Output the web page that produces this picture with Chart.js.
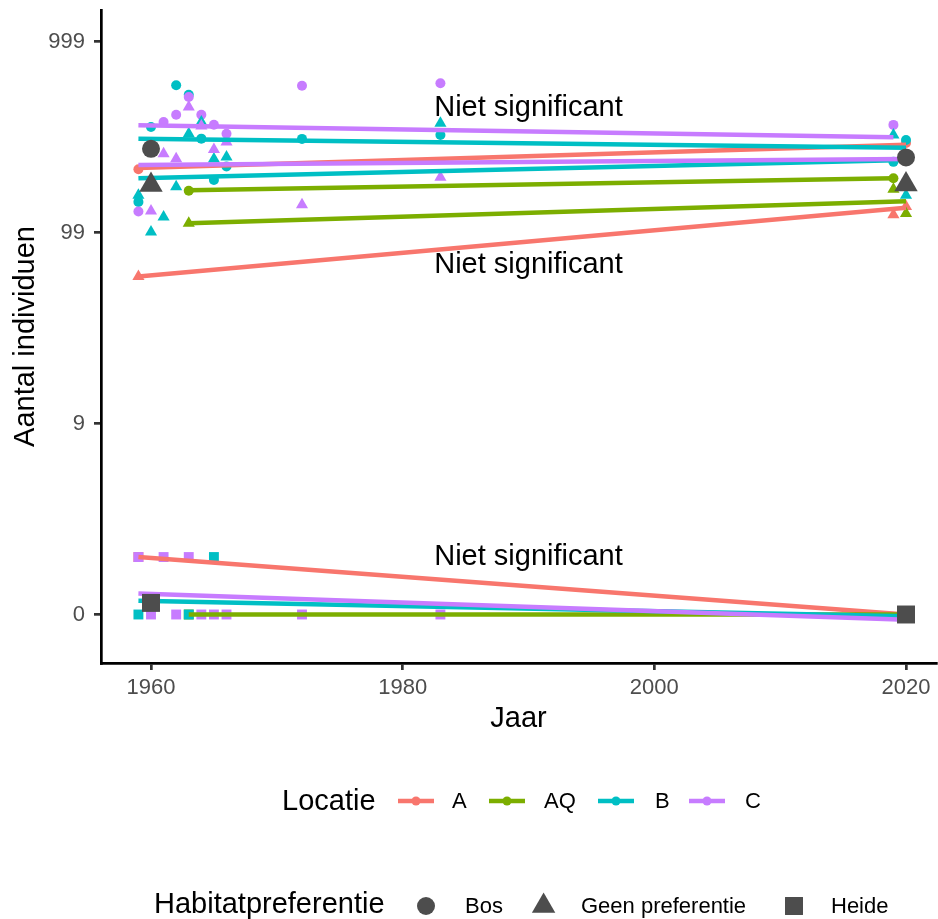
<!DOCTYPE html>
<html>
<head>
<meta charset="utf-8">
<script src="https://cdn.jsdelivr.net/npm/chart.js@4.4.0/dist/chart.umd.min.js"></script>
<style>
  html, body { margin: 0; padding: 0; background: #fff; }
  canvas { display: block; }
</style>
</head>
<body>
<canvas id="chart" width="938" height="919"></canvas>
<script>
const fam = "'Liberation Sans', Arial, sans-serif";
Chart.defaults.font.family = fam;

const locaties = ['A', 'AQ', 'B', 'C'];
const habitats = ['Bos', 'Geen preferentie', 'Heide'];

// tick labels
const jaarTicks = [1960, 1980, 2000, 2020];
const aantalTicks = [0, 9, 99, 999];

// Bos (counts)
const bosA_jaar = [1959, 2020];
const bosA_aantal = [214, 294];
const bosAQ_jaar = [1963, 2019];
const bosAQ_aantal = [165, 192];
const bosB_jaar = [1959, 1960, 1962, 1963, 1964, 1965, 1966, 1972, 1983, 2019, 2020];
const bosB_aantal = [144, 357, 591, 527, 310, 188, 221, 309, 324, 234, 305];
const bosC_jaar = [1959, 1961, 1962, 1963, 1964, 1965, 1966, 1972, 1983, 2019];
const bosC_aantal = [128, 379, 414, 513, 414, 367, 329, 588, 606, 366];

// Geen preferentie
const geenA_jaar = [1959, 2019, 2020];
const geenA_aantal = [58, 123, 136];
const geenAQ_jaar = [1963, 2019, 2020];
const geenAQ_aantal = [111, 168, 125];
const geenB_jaar = [1959, 1960, 1961, 1962, 1963, 1964, 1965, 1966, 1983, 2019, 2020];
const geenB_aantal = [156, 100, 120, 173, 329, 379, 242, 248, 373, 324, 156];
const geenC_jaar = [1960, 1961, 1962, 1963, 1964, 1965, 1966, 1972, 1983];
const geenC_aantal = [129, 258, 243, 454, 361, 272, 298, 139, 194];

// Heide
const heideA_jaar = [1959, 2020];
const heideA_aantal = [1, 0];
const heideAQ_jaar = [1963, 2020];
const heideAQ_aantal = [0, 0];
const heideB_jaar = [1959, 1963, 1965, 2020];
const heideB_aantal = [0, 0, 1, 0];
const heideC_jaar = [1959, 1960, 1961, 1962, 1963, 1964, 1965, 1966, 1972, 1983, 2020];
const heideC_aantal = [1, 0, 1, 0, 1, 0, 0, 0, 0, 0, 0];

// trend lines, start/end per locatie (A, AQ, B, C)
const bosTrend_jaar = [[1959, 2020], [1963, 2019], [1959, 2020], [1959, 2019]];
const bosTrend_aantal = [[217, 288], [166, 192], [310, 278], [364, 315]];
const geenTrend_jaar = [[1959, 2020], [1963, 2020], [1959, 2020], [1959, 2020]];
const geenTrend_aantal = [[58, 134], [111, 145], [192, 239], [225, 242]];
const heideTrend_jaar = [[1959, 2020], [1963, 2020], [1959, 2020], [1959, 2020]];
const heideTrend_aantal = [[1, 0], [0, 0], [0.18, -0.02], [0.29, -0.06]];

// group means
const gemJaar = [1960, 2020];
const gemBos = [274, 247];
const gemGeen = [177, 178];
const gemHeide = [0.15, 0];

// annotations
const labelTekst = 'Niet significant';
const labelJaar = 1990;
const labelAantal = [448, 67, 1];

const tf = n => Math.log10(n + 1);

const kleur = { A: '#F8766D', AQ: '#7CAE00', B: '#00BFC4', C: '#C77CFF' };
const vorm = { 'Bos': 'circle', 'Geen preferentie': 'triangle', 'Heide': 'rect' };
const klein = { 'Bos': 5, 'Geen preferentie': 7, 'Heide': 7 };
const groot = { 'Bos': 9, 'Geen preferentie': 13.5, 'Heide': 12.7 };
const grijs = '#4D4D4D';

const punten = {
  'Bos': [[bosA_jaar, bosA_aantal], [bosAQ_jaar, bosAQ_aantal], [bosB_jaar, bosB_aantal], [bosC_jaar, bosC_aantal]],
  'Geen preferentie': [[geenA_jaar, geenA_aantal], [geenAQ_jaar, geenAQ_aantal], [geenB_jaar, geenB_aantal], [geenC_jaar, geenC_aantal]],
  'Heide': [[heideA_jaar, heideA_aantal], [heideAQ_jaar, heideAQ_aantal], [heideB_jaar, heideB_aantal], [heideC_jaar, heideC_aantal]]
};
const trends = {
  'Bos': [bosTrend_jaar, bosTrend_aantal],
  'Geen preferentie': [geenTrend_jaar, geenTrend_aantal],
  'Heide': [heideTrend_jaar, heideTrend_aantal]
};
const gemiddelden = { 'Bos': gemBos, 'Geen preferentie': gemGeen, 'Heide': gemHeide };

const datasets = [];
habitats.forEach((h, hi) => {
  locaties.forEach((loc, li) => {
    const [jaren, aantallen] = punten[h][li];
    datasets.push({
      type: 'scatter',
      label: loc + ' ' + h,
      data: jaren.map((j, i) => ({ x: j, y: tf(aantallen[i]) })),
      pointStyle: vorm[h],
      pointRadius: klein[h],
      backgroundColor: kleur[loc],
      borderWidth: 0,
      pointBorderWidth: 0,
      order: 100 - (hi * 4 + li)
    });
    const [tj, ta] = trends[h];
    datasets.push({
      type: 'line',
      label: loc + ' ' + h + ' trend',
      data: tj[li].map((j, i) => ({ x: j, y: tf(ta[li][i]) })),
      borderColor: kleur[loc],
      borderWidth: 4.5,
      pointRadius: 0,
      fill: false,
      tension: 0,
      order: 50 - (hi * 4 + li)
    });
  });
  datasets.push({
    type: 'scatter',
    label: h + ' gemiddeld',
    data: gemJaar.map((j, i) => ({ x: j, y: tf(gemiddelden[h][i]) })),
    pointStyle: vorm[h],
    pointRadius: groot[h],
    backgroundColor: grijs,
    borderWidth: 0,
    pointBorderWidth: 0,
    order: 0
  });
});

// chart area: left 101, right 936, top 10, bottom 663
const pxPerJaar = 755 / 60;
const xMin = 1960 - 50 / pxPerJaar;
const xMax = xMin + 835 / pxPerJaar;
const pxPerDecade = 190.9;
const yMin = -(663 - 614.5) / pxPerDecade;
const yMax = yMin + 653 / pxPerDecade;

const tekstPlugin = {
  id: 'tekst',
  afterDatasetsDraw(chart) {
    const { ctx, scales: { x, y } } = chart;
    ctx.save();
    ctx.font = `29px ${fam}`;
    ctx.fillStyle = '#000';
    ctx.textAlign = 'center';
    ctx.textBaseline = 'middle';
    labelAantal.forEach(n => {
      ctx.fillText(labelTekst, x.getPixelForValue(labelJaar), y.getPixelForValue(tf(n)));
    });
    ctx.restore();
  }
};

function vormTekenen(ctx, stijl, r, x, y) {
  ctx.beginPath();
  if (stijl === 'circle') {
    ctx.arc(x, y, r, 0, Math.PI * 2);
  } else if (stijl === 'triangle') {
    ctx.moveTo(x, y - r);
    ctx.lineTo(x + r * Math.sin(Math.PI / 3), y + r / 2);
    ctx.lineTo(x - r * Math.sin(Math.PI / 3), y + r / 2);
    ctx.closePath();
  } else {
    const s = r * Math.SQRT1_2;
    ctx.rect(x - s, y - s, 2 * s, 2 * s);
  }
  ctx.fill();
}

const legendePlugin = {
  id: 'legende',
  afterDraw(chart) {
    const ctx = chart.ctx;
    ctx.save();
    ctx.textAlign = 'left';
    ctx.textBaseline = 'middle';
    ctx.fillStyle = '#000';

    // Locatie
    ctx.font = `29px ${fam}`;
    ctx.fillText('Locatie', 282, 801.5);
    const keyX = [398, 489, 598, 689];
    const txtX = [452, 544, 655, 745];
    ctx.font = `22px ${fam}`;
    locaties.forEach((loc, i) => {
      ctx.strokeStyle = kleur[loc];
      ctx.lineWidth = 4.5;
      ctx.beginPath();
      ctx.moveTo(keyX[i], 801);
      ctx.lineTo(keyX[i] + 36, 801);
      ctx.stroke();
      ctx.fillStyle = kleur[loc];
      vormTekenen(ctx, 'circle', 4.5, keyX[i] + 18, 801);
      ctx.fillStyle = '#000';
      ctx.fillText(loc, txtX[i], 802);
    });

    // Habitatpreferentie
    ctx.font = `29px ${fam}`;
    ctx.fillText('Habitatpreferentie', 154, 905);
    const vormX = [426, 543.6, 794];
    const hTxtX = [465, 581, 831];
    ctx.font = `22px ${fam}`;
    habitats.forEach((h, i) => {
      ctx.fillStyle = grijs;
      vormTekenen(ctx, vorm[h], groot[h], vormX[i], 906);
      ctx.fillStyle = '#000';
      ctx.fillText(h, hTxtX[i], 907);
    });
    ctx.restore();
  }
};

const asStijl = {
  grid: { drawOnChartArea: false, color: '#333333', lineWidth: 2.7, tickLength: 7 },
  border: { display: true, color: '#000000', width: 2.7 }
};

function geenPadding(s) {
  s.paddingTop = 0;
  s.paddingBottom = 0;
  s.paddingLeft = 0;
  s.paddingRight = 0;
}

new Chart(document.getElementById('chart'), {
  type: 'scatter',
  data: { datasets },
  options: {
    responsive: false,
    devicePixelRatio: 1,
    animation: false,
    events: [],
    layout: { autoPadding: false, padding: { top: 10, right: 2, bottom: 183, left: 0 } },
    plugins: { legend: { display: false }, tooltip: { enabled: false } },
    scales: {
      x: {
        type: 'linear',
        min: xMin,
        max: xMax,
        afterBuildTicks: s => { s.ticks = jaarTicks.map(v => ({ value: v })); },
        afterFit: s => { s.height = 73; geenPadding(s); },
        ...asStijl,
        ticks: { color: grijs, font: { size: 22 }, padding: 5, maxRotation: 0, callback: v => String(v) },
        title: { display: true, text: 'Jaar', color: '#000', font: { size: 29 }, padding: 0 }
      },
      y: {
        type: 'linear',
        min: yMin,
        max: yMax,
        afterBuildTicks: s => { s.ticks = aantalTicks.map(n => ({ value: tf(n) })); },
        afterFit: s => { s.width = 101; geenPadding(s); },
        ...asStijl,
        ticks: {
          color: grijs,
          font: { size: 22 },
          padding: 9,
          callback: v => String(Math.round(Math.pow(10, v) - 1))
        },
        title: { display: true, text: 'Aantal individuen', color: '#000', font: { size: 29 }, padding: { top: 9, bottom: 0 } }
      }
    }
  },
  plugins: [tekstPlugin, legendePlugin]
});
</script>
</body>
</html>
